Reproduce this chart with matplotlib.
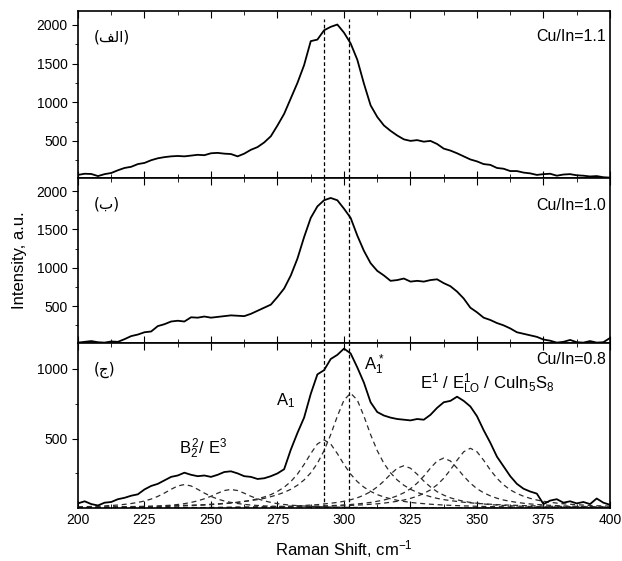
import numpy as np
import matplotlib
matplotlib.use("Agg")
import matplotlib.pyplot as plt
from matplotlib.ticker import MultipleLocator

plt.rcParams.update({
    "font.family": ["Liberation Sans", "DejaVu Sans"],
    "mathtext.fontset": "custom",
    "mathtext.rm": "Liberation Sans",
    "mathtext.it": "Liberation Sans:italic",
    "axes.linewidth": 1.2,
})

# Raman shift sampling (cm^-1)
shift = np.arange(200, 402.5, 2.5)

# measured spectra
cu_in_11 = [60, 75, 72, 45, 70, 85, 120, 150, 165, 200,
            215, 250, 275, 290, 300, 305, 300, 310, 320, 315,
            340, 345, 335, 330, 300, 335, 385, 420, 480, 560,
            700, 850, 1050, 1250, 1480, 1790, 1810, 1930, 1975, 2005,
            1900, 1760, 1550, 1240, 960, 810, 700, 630, 570, 520,
            500, 510, 490, 500, 460, 400, 375, 340, 300, 260,
            235, 200, 190, 150, 140, 110, 110, 90, 80, 60,
            70, 75, 50, 65, 70, 55, 50, 40, 45, 30,
            25]
cu_in_10 = [25, 35, 45, 30, 25, 40, 35, 70, 110, 130,
            160, 170, 240, 265, 300, 310, 300, 355, 350, 365,
            350, 360, 370, 380, 375, 370, 400, 440, 480, 520,
            620, 730, 900, 1120, 1400, 1650, 1800, 1880, 1910, 1880,
            1770, 1650, 1420, 1220, 1060, 960, 900, 830, 840, 860,
            820, 830, 820, 840, 850, 800, 760, 690, 600, 480,
            420, 350, 320, 280, 250, 210, 160, 140, 120, 100,
            65, 50, 25, 35, 60, 30, 25, 45, 25, 30,
            85]
cu_in_08 = [35, 50, 30, 20, 40, 45, 65, 75, 90, 100,
            135, 160, 175, 200, 225, 235, 255, 240, 230, 235,
            225, 240, 260, 265, 250, 230, 225, 210, 215, 230,
            250, 280, 420, 540, 650, 820, 960, 990, 1070, 1100,
            1145, 1110, 1010, 900, 760, 690, 665, 650, 640, 635,
            630, 640, 635, 670, 720, 760, 770, 800, 770, 730,
            660, 560, 470, 370, 300, 230, 175, 140, 120, 105,
            30, 55, 65, 40, 50, 35, 45, 30, 70, 40,
            25]

# fitted components of the Cu/In=0.8 spectrum
fit_240 = [10, 11, 13, 15, 17, 20, 23, 28, 34, 42, 52, 66, 85, 109, 136, 160, 170,
           160, 136, 109, 85, 66, 52, 42, 34, 28, 23, 20, 17, 15, 13, 11, 10, 9, 8, 7,
           7, 6, 5, 5, 5, 4, 4, 4, 3, 3, 3, 3, 3, 2, 2, 2, 2, 2, 2, 2, 2, 2, 2, 2, 2, 2,
           2, 1, 1, 1, 1, 1, 1, 1, 1, 1, 1, 1, 1, 1, 1, 1, 1, 1, 1]
fit_257 = [4, 4, 5, 5, 6, 6, 7, 8, 9, 10, 12, 14, 16, 19, 22, 27, 33, 42, 53, 68, 86,
           108, 127, 135,
           127, 108, 86, 68, 53, 42, 33, 27, 22, 19, 16, 14, 12, 10, 9, 8, 7, 6, 6, 5,
           5, 4, 4, 4, 3, 3, 3, 3, 3, 2, 2, 2, 2, 2, 2, 2, 2, 2, 2, 2, 2, 2, 2, 2, 1, 1,
           1, 1, 1, 1, 1, 1, 1, 1, 1, 1, 1]
fit_292 = [6, 6, 6, 7, 7, 8, 8, 9, 9, 10, 11, 11, 12, 13, 14, 16, 17, 19, 21, 23, 26,
           29, 33, 37, 42, 49, 57, 68, 81, 98, 121, 151, 191, 245, 314, 392, 461, 490,
           461, 392, 314, 245, 191, 151, 121, 98, 81, 68, 57, 49, 42, 37, 33, 29, 26,
           23, 21, 19, 17, 16, 14, 13, 12, 11, 11, 10, 9, 9, 8, 8, 7, 7, 6, 6, 6, 5, 5,
           5, 5, 4, 4]
fit_302 = [8, 8, 9, 9, 10, 10, 11, 11, 12, 13, 14, 14, 15, 17, 18, 19, 21, 22, 24, 26,
           29, 32, 35, 39, 43, 49, 55, 62, 71, 83, 97, 114, 136, 165, 203, 254, 322,
           413, 528, 660, 776, 825,
           776, 660, 528, 413, 322, 254, 203, 165, 136, 114, 97, 83, 71, 62, 55, 49,
           43, 39, 35, 32, 29, 26, 24, 22, 21, 19, 18, 17, 15, 14, 14, 13, 12, 11, 11,
           10, 10, 9, 9]
fit_322 = [2, 2, 2, 2, 2, 2, 3, 3, 3, 3, 3, 3, 4, 4, 4, 4, 4, 5, 5, 5, 6, 6, 7, 7, 8,
           8, 9, 10, 11, 12, 13, 14, 16, 18, 20, 23, 26, 31, 36, 42, 50, 61, 75, 94,
           119, 153, 195, 244, 287, 305,
           287, 244, 195, 153, 119, 94, 75, 61, 50, 42, 36, 31, 26, 23, 20, 18, 16,
           14, 13, 12, 11, 10, 9, 8, 8, 7, 7, 6, 6, 5, 5]
fit_338 = [2, 2, 2, 2, 2, 2, 2, 2, 3, 3, 3, 3, 3, 3, 3, 4, 4, 4, 4, 4, 5, 5, 5, 6, 6,
           6, 7, 7, 8, 8, 9, 10, 11, 12, 13, 14, 15, 17, 19, 21, 24, 27, 31, 36, 42,
           50, 59, 72, 89, 111, 140, 180, 230, 288, 339, 360,
           339, 288, 230, 180, 140, 111, 89, 72, 59, 50, 42, 36, 31, 27, 24, 21, 19,
           17, 15, 14, 13, 12, 11, 10, 9]
fit_348 = [2, 2, 2, 2, 2, 2, 3, 3, 3, 3, 3, 3, 3, 3, 3, 3, 4, 4, 4, 4, 4, 5, 5, 5, 6,
           6, 6, 7, 7, 8, 8, 9, 9, 10, 11, 12, 13, 14, 15, 17, 18, 20, 23, 25, 29, 32,
           37, 43, 50, 59, 71, 86, 106, 132, 168, 215, 275, 344, 405, 430,
           405, 344, 275, 215, 168, 132, 106, 86, 71, 59, 50, 43, 37, 32, 29, 25, 23,
           20, 18, 17, 15]
components = [fit_240, fit_257, fit_292, fit_302, fit_322, fit_338, fit_348]

# reference mode positions (vertical guides)
mode_lines = [292.5, 302.0]

panels = [
    ("(\ufed2\ufedf\ufe8d)", "Cu/In=1.1", cu_in_11, (20, 2180), 0.846),
    ("(\ufe8f)", "Cu/In=1.0", cu_in_10, (20, 2170), 0.836),
    ("(\ufe9d)", "Cu/In=0.8", cu_in_08, (2, 1185), 0.897),
]
boxes = [(0.1254, 0.6827, 0.8553, 0.2977),
         (0.1254, 0.3886, 0.8553, 0.2941),
         (0.1254, 0.0945, 0.8553, 0.2941)]

fig = plt.figure(figsize=(6.22, 5.61), dpi=100)
axes = []
for (tag, ratio, spec, ylim, ry), box in zip(panels, boxes):
    ax = fig.add_axes(box)
    ax.plot(shift, spec, color="black", lw=1.3, zorder=3)
    ax.set_xlim(200, 400)
    ax.set_ylim(*ylim)
    ax.xaxis.set_major_locator(MultipleLocator(25))
    ax.xaxis.set_minor_locator(MultipleLocator(12.5))
    ax.yaxis.set_major_locator(MultipleLocator(500))
    ax.yaxis.set_minor_locator(MultipleLocator(250))
    ax.tick_params(axis="x", which="both", direction="in", top=True, labelbottom=False)
    ax.tick_params(axis="x", which="major", length=5)
    ax.tick_params(axis="x", which="minor", length=3)
    ax.tick_params(axis="y", which="major", direction="out", length=4, labelsize=10)
    ax.tick_params(axis="y", which="minor", direction="out", length=2.5)
    ax.text(0.03, 0.845 if tag != "(\ufe9d)" else 0.84, tag, transform=ax.transAxes,
            ha="left", va="center", fontsize=11,
            family=["DejaVu Sans", "Liberation Sans"])
    ax.text(0.992, ry, ratio, transform=ax.transAxes, ha="right", va="center",
            fontsize=11.5)
    axes.append(ax)

ax_top, ax_mid, ax_bot = axes
for xm in mode_lines:
    ax_top.axvline(xm, ymax=0.95, color="black", lw=0.9, ls=(0, (3, 2)), zorder=2)
    ax_mid.axvline(xm, color="black", lw=0.9, ls=(0, (3, 2)), zorder=2)
    ax_bot.axvline(xm, color="black", lw=0.9, ls=(0, (3, 2)), zorder=2)

for comp in components:
    ax_bot.plot(shift, comp, color="#2a2a2a", lw=0.9, ls=(0, (4, 3)), zorder=2)

ax_bot.tick_params(axis="x", labelbottom=True, labelsize=10)

ax_bot.text(238, 425, r"$\mathrm{B}_2^{\,2}$/ $\mathrm{E}^3$", fontsize=12,
            ha="left", va="center")
ax_bot.text(278, 770, r"$\mathrm{A}_1$", fontsize=12, ha="center", va="center")
ax_bot.text(311.5, 1030, r"$\mathrm{A}_1^{\,*}$", fontsize=12, ha="center",
            va="center")
ax_bot.text(354, 890, r"$\mathrm{E}^1$ / $\mathrm{E}^1_{\mathrm{LO}}$ / "
            r"$\mathrm{CuIn}_5\mathrm{S}_8$", fontsize=12, ha="center", va="center")

fig.text(0.032, 0.537, "Intensity, a.u.", rotation=90, ha="center", va="center",
         fontsize=12)
fig.text(0.553, 0.022, r"Raman Shift, cm$^{-1}$", ha="center", va="center",
         fontsize=12)

fig.savefig("out.png", dpi=100)
